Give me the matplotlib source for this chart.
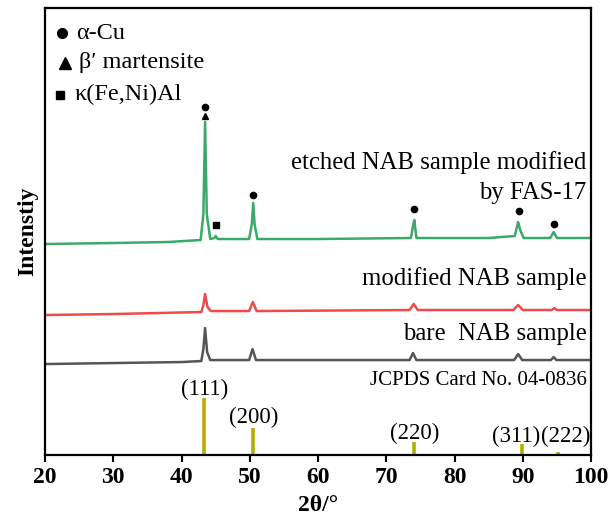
import matplotlib.pyplot as plt
import numpy as np

# XRD traces (2theta, intensity above each trace's own baseline)
bare_x = [20, 30, 40, 42.9, 43.2, 43.45, 43.75, 44.2, 49.9, 50.4, 50.9, 73.4, 73.9, 74.4,
          88.7, 89.3, 89.9, 94.1, 94.5, 94.9, 100]
bare_y = [0, 1, 2, 3, 15, 36, 12, 4, 4, 15, 4, 4, 11, 4, 4, 10, 4, 4, 7, 4, 4]

mod_x = [20, 30, 42.9, 43.2, 43.45, 43.8, 44.3, 49.9, 50.45, 51.0, 73.4, 74.0, 74.6,
         88.6, 89.3, 90.0, 94.2, 94.6, 95.0, 100]
mod_y = [0, 1, 3, 10, 21, 8, 4, 4, 13, 4, 5, 11, 5, 5, 10, 5, 5, 7, 5, 5]

fas_x = [20, 30, 38, 42.8, 43.2, 43.45, 43.7, 44.2, 44.8, 45.0, 45.3, 49.9, 50.3, 50.5,
         50.7, 51.1, 60, 73.6, 73.9, 74.1, 74.4, 85, 88.8, 89.3, 89.6, 90.1, 94.0, 94.5,
         95.0, 100]
fas_y = [0, 1, 2, 4, 30, 122, 30, 5, 6, 8, 5, 5, 20, 41, 20, 5, 5, 6, 18, 24, 6, 6, 8,
         22, 14, 6, 6, 12, 6, 6]

# JCPDS 04-0836 reference sticks
ref_pos = [43.3, 50.4, 74.1, 89.9, 95.1]
ref_int = [57, 27, 13, 11, 3]
ref_hkl = ["(111)", "(200)", "(220)", "(311)", "(222)"]

# phase markers above the FAS-17 trace
cu_pos = [43.4, 50.5, 74.0, 89.4, 94.6]
cu_y = [348, 260, 246, 244, 231]

plt.rcParams['font.family'] = ['Liberation Serif', 'DejaVu Serif']

fig = plt.figure(figsize=(6.11, 5.31), dpi=100)
ax = fig.add_axes([0.0736, 0.143, 0.894, 0.842])

ax.plot(bare_x, np.array(bare_y) + 91, color='#555555', lw=1.8)
ax.plot(mod_x, np.array(mod_y) + 140, color='#f04a4a', lw=1.8)
ax.plot(fas_x, np.array(fas_y) + 211, color='#3aaa6a', lw=1.8)
ax.vlines(ref_pos, 0, ref_int, color='#b5ad00', lw=2.6)

ax.plot(cu_pos, cu_y, 'o', color='black', ms=4.5)
ax.plot(43.4, 339, '^', color='black', ms=5)
ax.plot(45.0, 230, 's', color='black', ms=4.5)

# legend of phases
ax.plot(0.031, 0.944, 'o', color='black', ms=7, transform=ax.transAxes, clip_on=False)
ax.plot(0.036, 0.877, '^', color='black', ms=9, transform=ax.transAxes, clip_on=False)
ax.plot(0.027, 0.806, 's', color='black', ms=6, transform=ax.transAxes, clip_on=False)
ax.text(0.057, 0.944, "α-Cu", transform=ax.transAxes, fontsize=17.5, va='center')
ax.text(0.062, 0.877, "β′ martensite", transform=ax.transAxes, fontsize=17.5, va='center')
ax.text(0.054, 0.806, "κ(Fe,Ni)Al", transform=ax.transAxes, fontsize=17.5, va='center')

ax.text(99.3, 292, "etched NAB sample modified", fontsize=17.8, ha='right', va='center')
ax.text(99.3, 262, "by FAS-17", fontsize=17.8, ha='right', va='center')
ax.text(99.3, 177, "modified NAB sample", fontsize=17.8, ha='right', va='center')
ax.text(99.3, 121, "bare  NAB sample", fontsize=17.8, ha='right', va='center')
ax.text(99.3, 75, "JCPDS Card No. 04-0836", fontsize=15, ha='right', va='center')

lab_x = [43.4, 50.5, 74.1, 92.6, 92.7]
lab_y = [66, 38, 22, 19, 19]
lab_ha = ['center', 'center', 'center', 'right', 'left']
for hkl, lx, ly, ha in zip(ref_hkl, lab_x, lab_y, lab_ha):
    ax.text(lx, ly, hkl, fontsize=16.5, ha=ha, va='center')

ax.set_xlim(20, 100)
ax.set_ylim(0, 447)
ax.set_xticks(np.arange(20, 101, 10))
ax.set_yticks([])
ax.tick_params(axis='x', direction='out', length=5, width=1.5, labelsize=17)
for lbl in ax.get_xticklabels():
    lbl.set_fontweight('bold')
for sp in ax.spines.values():
    sp.set_linewidth(1.6)

ax.set_xlabel("2θ/°", fontsize=17, fontweight='bold', labelpad=5)
ax.set_ylabel("Intenstiy", fontsize=17, fontweight='bold', labelpad=5)

fig.savefig("out.png", dpi=100)
